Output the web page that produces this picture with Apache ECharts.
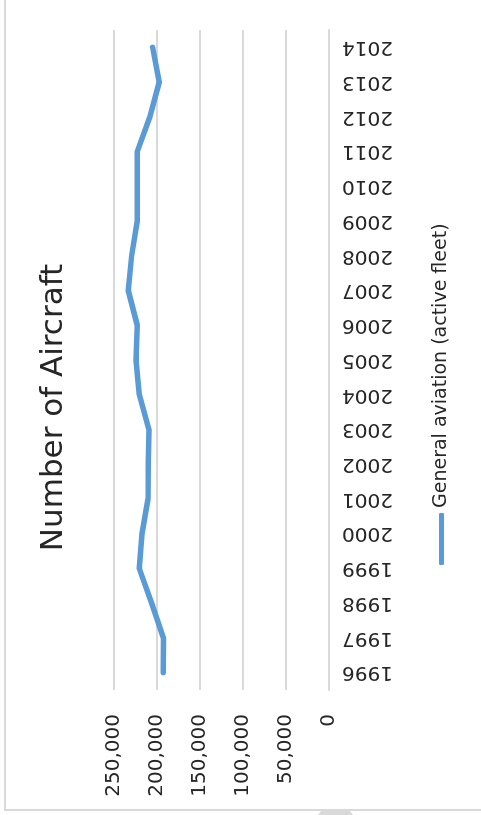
<!DOCTYPE html>
<html>
<head>
<meta charset="utf-8">
<script src="https://cdn.jsdelivr.net/npm/echarts@6/dist/echarts.min.js"></script>
<style>
  html, body { margin: 0; padding: 0; background: #ffffff; overflow: hidden; }
  /* The chart is laid out landscape (815 x 481) and turned a quarter-turn counter-clockwise. */
  #chart {
    position: absolute; left: 0; top: 0;
    width: 815px; height: 481px;
    transform-origin: 0 0;
    transform: translate(0, 815px) rotate(-90deg);
  }
</style>
</head>
<body>
<div id="chart"></div>
<script>
// Fiscal years on the category axis
const years = ['1996', '1997', '1998', '1999', '2000', '2001', '2002', '2003', '2004', '2005',
               '2006', '2007', '2008', '2009', '2010', '2011', '2012', '2013', '2014'];
// General aviation active fleet, number of aircraft
const activeFleet = [192800, 192500, 206200, 220600, 217500, 210500, 210300, 209400, 220600, 224500,
                     223000, 233400, 229500, 223000, 223000, 223000, 208200, 197400, 205100];
// Value axis ticks
const valueTicks = [0, 50000, 100000, 150000, 200000, 250000];

const seriesName = 'General aviation (active fleet)';
const titleText = 'Number of Aircraft';
const gridColor = '#d9d9d9';
const lineColor = '#5b9bd5';
const textColor = '#262626';

const chart = echarts.init(document.getElementById('chart'), null, { renderer: 'canvas' });

chart.setOption({
  backgroundColor: '#ffffff',
  animation: false,
  title: {
    text: titleText,
    left: 'center',
    top: 33,
    textStyle: { fontFamily: 'DejaVu Sans', fontSize: 31, fontWeight: 'normal', color: textColor }
  },
  legend: {
    data: [seriesName],
    left: 245,
    top: 427,
    icon: 'roundRect',
    itemWidth: 52,
    itemHeight: 5,
    textStyle: { fontFamily: 'DejaVu Sans', fontSize: 19, color: textColor }
  },
  grid: { left: 125, right: 30, top: 114, bottom: 152, containLabel: false },
  xAxis: {
    type: 'category',
    data: years,
    boundaryGap: true,
    axisLine: { show: true, lineStyle: { color: gridColor, width: 2 } },
    axisTick: { show: false },
    axisLabel: {
      rotate: 90, margin: 13, interval: 0,
      fontFamily: 'DejaVu Sans', fontSize: 20, color: textColor
    },
    splitLine: { show: false }
  },
  yAxis: {
    type: 'value',
    min: valueTicks[0],
    max: valueTicks[valueTicks.length - 1],
    interval: valueTicks[1] - valueTicks[0],
    axisLine: { show: false },
    axisTick: { show: false },
    axisLabel: {
      margin: 24,
      fontFamily: 'DejaVu Sans', fontSize: 20, color: textColor,
      formatter: v => v.toLocaleString('en-US')
    },
    splitLine: { show: true, lineStyle: { color: gridColor, width: 2 } }
  },
  series: [{
    name: seriesName,
    type: 'line',
    data: activeFleet,
    showSymbol: false,
    symbol: 'none',
    itemStyle: { color: lineColor },
    lineStyle: { color: lineColor, width: 5.5, cap: 'round', join: 'round' }
  }],
  graphic: [
    // chart area frame
    {
      type: 'rect', silent: true,
      shape: { x: 5, y: 5, width: 900, height: 600 },
      style: { fill: 'none', stroke: gridColor, lineWidth: 2 }
    },
    // small tab on the frame edge
    {
      type: 'polygon', silent: true,
      shape: { points: [[0, 318], [4, 321], [4, 350], [0, 353]] },
      style: { fill: gridColor }
    }
  ]
});
</script>
</body>
</html>
